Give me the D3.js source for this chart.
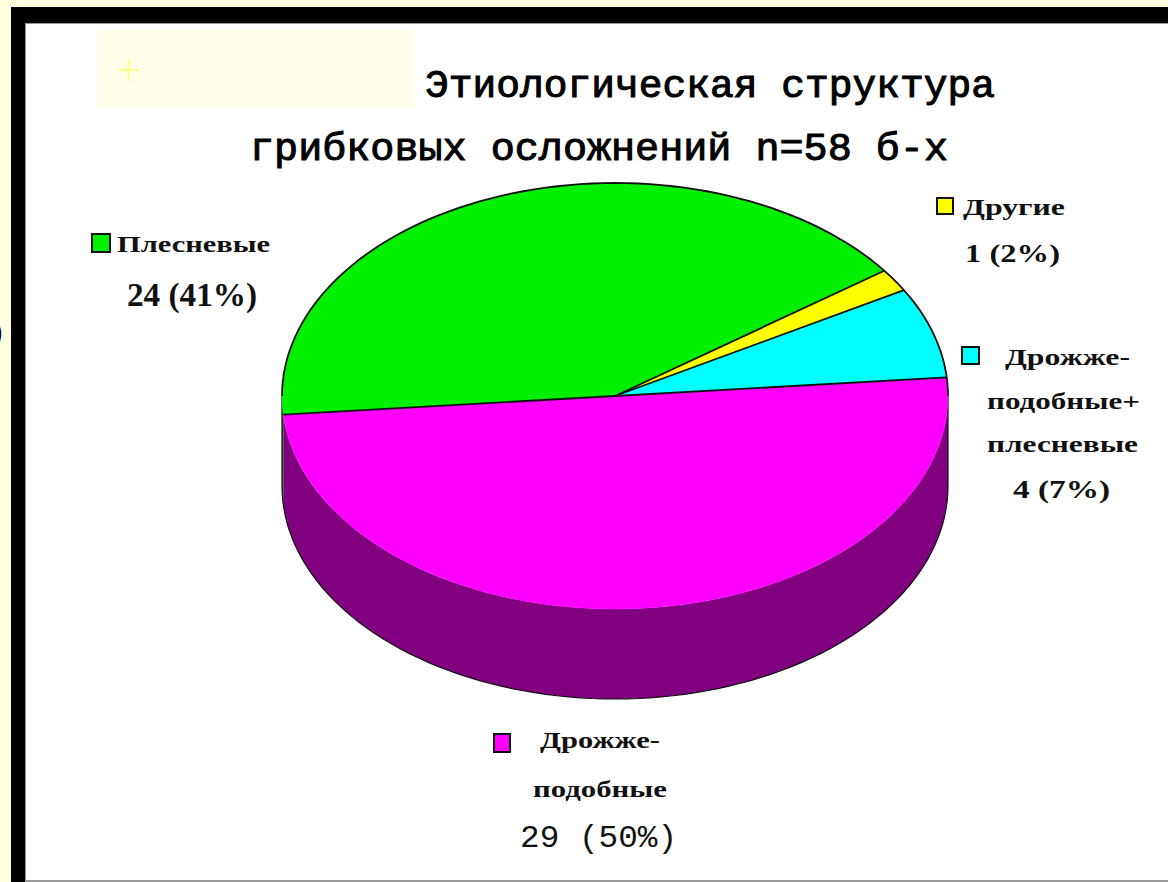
<!DOCTYPE html>
<html>
  <head>
    <meta charset="utf-8" />
    <script src="https://d3js.org/d3.v7.min.js"></script>
    <title>Этиологическая структура грибковых осложнений</title>
    <style>
      body { margin: 0; background: #ffffe0; }
      svg { display: block; }
      .mono { font-family: "Liberation Mono", "Courier New", monospace; }
      .serif { font-family: "Liberation Serif", "Times New Roman", serif; font-weight: bold; }
    </style>
  </head>
  <body>

    <svg id="chart" width="1168" height="882"></svg>

    <script>

      // data
      var categories = [
        ["Дрожже-", "подобные"],
        ["Плесневые"],
        ["Другие"],
        ["Дрожже-", "подобные+", "плесневые"]
      ];
      var values = [29, 24, 1, 4];
      var topColors = ["#ff00ff", "#00f000", "#ffff00", "#00ffff"];
      var sideColors = ["#800080", "#007800", "#808000", "#008080"];
      var titleLines = ["Этиологическая структура", "грибковых осложнений n=58 б-х"];

      var total = d3.sum(values);

      var svg = d3.select("#chart");

      // frame
      svg.append("rect").attr("x", 0).attr("y", 0).attr("width", 1168).attr("height", 882).attr("fill", "#ffffe0");
      svg.append("rect").attr("x", 11).attr("y", 7).attr("width", 1157).attr("height", 875).attr("fill", "#000");
      svg.append("rect").attr("x", 25).attr("y", 23).attr("width", 1143).attr("height", 859).attr("fill", "#9a9a9a");
      svg.append("rect").attr("x", 26).attr("y", 24).attr("width", 1142).attr("height", 856).attr("fill", "#fff");
      svg.append("text").attr("x", -7).attr("y", 342).attr("font-size", 30)
        .attr("font-family", "Liberation Sans").text(")");

      // pale box behind the title with a little cross
      svg.append("rect").attr("x", 97).attr("y", 30).attr("width", 317).attr("height", 77).attr("fill", "#fffee9");
      svg.append("path").attr("d", "M118,70H139M128.5,59V81").attr("stroke", "#ffff88").attr("stroke-width", 2);

      // title
      var titlePos = [[425, 97, 570], [250, 160, 698]];
      svg.selectAll(".title").data(titleLines).enter().append("text")
        .attr("class", "title mono")
        .attr("x", function(d, i) { return titlePos[i][0]; })
        .attr("y", function(d, i) { return titlePos[i][1]; })
        .attr("textLength", function(d, i) { return titlePos[i][2]; })
        .attr("lengthAdjust", "spacingAndGlyphs")
        .attr("font-size", 38)
        .attr("fill", "#000")
        .attr("stroke", "#000")
        .attr("stroke-width", 1)
        .text(function(d) { return d; });

      // 3d pie
      var cx = 615, cy = 396, rx = 333, ry = 213, depth = 90;
      var start = 85 * Math.PI / 180;

      var pie = d3.pie().sort(null).value(function(d) { return d; })
        .startAngle(start).endAngle(start + 2 * Math.PI);
      var arcs = pie(values);

      function pt(a, dy) {
        return [cx + rx * Math.sin(a), cy - ry * Math.cos(a) + (dy || 0)];
      }

      function rim(a0, a1, dy) {
        var n = 90, out = [];
        for (var k = 0; k <= n; k++) out.push(pt(a0 + (a1 - a0) * k / n, dy));
        return out;
      }

      // front wall: angles between 90deg and 270deg (d3 convention)
      var wallGroup = svg.append("g");
      arcs.forEach(function(s, i) {
        var lo = Math.PI / 2, hi = 3 * Math.PI / 2;
        [0, 2 * Math.PI].forEach(function(shift) {
          var a0 = Math.max(s.startAngle - shift, lo);
          var a1 = Math.min(s.endAngle - shift, hi);
          if (a1 <= a0) return;
          var top = rim(a0, a1, 0), bottom = rim(a0, a1, depth);
          wallGroup.append("path")
            .attr("d", d3.line()(top.concat(bottom.slice().reverse())) + "Z")
            .attr("fill", sideColors[i]);
        });
      });
      // wall outline: the two vertical edges and the bottom rim
      var wallEdge = [pt(Math.PI / 2, 0)].concat(rim(Math.PI / 2, 3 * Math.PI / 2, depth), [pt(3 * Math.PI / 2, 0)]);
      wallGroup.append("path")
        .attr("d", d3.line()(wallEdge))
        .attr("fill", "none")
        .attr("stroke", "#111")
        .attr("stroke-width", 1.2);

      // top face
      var arc = d3.arc().innerRadius(0).outerRadius(rx);
      svg.append("g")
        .attr("transform", "translate(" + cx + "," + cy + ") scale(1," + (ry / rx) + ")")
        .selectAll("path").data(arcs).enter().append("path")
        .attr("d", arc)
        .attr("fill", function(d, i) { return topColors[i]; })
        .attr("stroke", function(d, i) { return topColors[i]; })
        .attr("stroke-width", 0.5)
        .attr("vector-effect", "non-scaling-stroke");

      // outlines on the top face: back rim and radial lines
      var outline = svg.append("g").attr("fill", "none").attr("stroke", "#111").attr("stroke-width", 1.8);
      outline.append("path").attr("d", d3.line()(rim(-Math.PI / 2, Math.PI / 2, 0)));
      arcs.forEach(function(s) {
        outline.append("path").attr("d", d3.line()([[cx, cy], pt(s.startAngle, 0)]));
      });

      // labels: swatch, name lines, count line
      var labelLayout = [
        { box: [494, 734, 16, 18], lines: [[540, 748, 120], [533, 797, 134]], count: [520, 847, 157], countFont: "mono", countSize: 32, countBold: false },
        { box: [92, 234, 18, 18], lines: [[117, 252, 153]], count: [127, 306, 130], countFont: "serif", countSize: 33, countBold: true },
        { box: [937, 198, 16, 16], lines: [[963, 215, 102]], count: [965, 262, 95], countFont: "serif", countSize: 25, countBold: true },
        { box: [962, 347, 17, 17], lines: [[1005, 365, 125], [987, 409, 153], [987, 452, 151]], count: [1013, 498, 97], countFont: "serif", countSize: 25, countBold: true }
      ];

      var labels = svg.selectAll(".label").data(values).enter().append("g").attr("class", "label");

      labels.each(function(v, i) {
        var g = d3.select(this);
        var L = labelLayout[i];
        g.append("rect")
          .attr("x", L.box[0]).attr("y", L.box[1])
          .attr("width", L.box[2]).attr("height", L.box[3])
          .attr("fill", topColors[i])
          .attr("stroke", "#111").attr("stroke-width", 2);
        categories[i].forEach(function(line, j) {
          g.append("text")
            .attr("class", "serif")
            .attr("x", L.lines[j][0]).attr("y", L.lines[j][1])
            .attr("textLength", L.lines[j][2])
            .attr("lengthAdjust", "spacingAndGlyphs")
            .attr("font-size", 23)
            .attr("fill", "#111")
            .text(line);
        });
        var pct = Math.round(v / total * 100);
        g.append("text")
          .attr("class", L.countFont)
          .attr("x", L.count[0]).attr("y", L.count[1])
          .attr("textLength", L.count[2])
          .attr("lengthAdjust", "spacingAndGlyphs")
          .attr("font-size", L.countSize)
          .attr("font-weight", L.countBold ? "bold" : "normal")
          .attr("fill", "#111")
          .text(v + " (" + pct + "%)");
      });

    </script>

  </body>
</html>
